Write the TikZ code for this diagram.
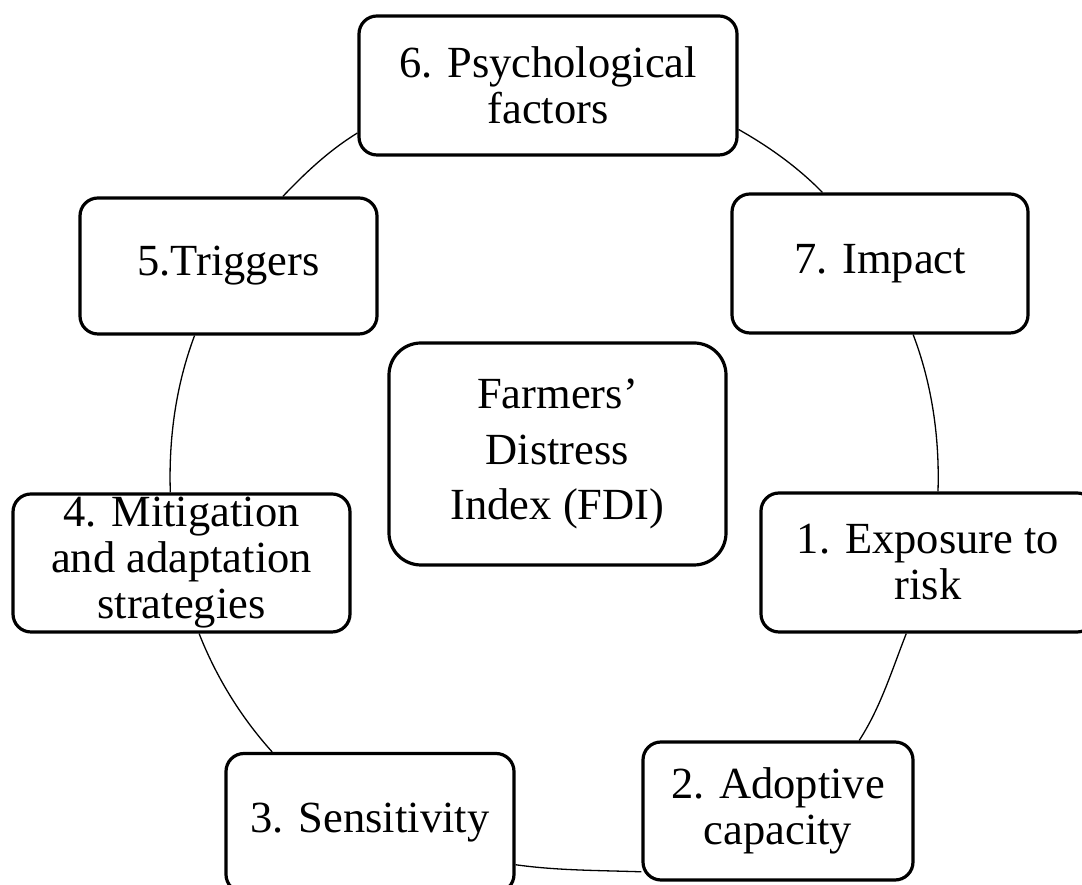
\documentclass[tikz,border=0pt]{standalone}
\usepackage{fontspec}
\setmainfont{Liberation Serif}
\begin{document}
\begin{tikzpicture}[x=1pt, y=1pt,
    every node/.style={draw=black, line width=3.2pt, rounded corners=18pt, align=center,
      inner sep=0pt, font=\fontsize{44.5pt}{46pt}\selectfont},
    ring/.style={draw=black, line width=1.3pt, looseness=0.86}]
    \useasboundingbox (0,0) rectangle (1082,885);
    \node[minimum width=378pt, minimum height=139pt] (n6) at (548,799.5) {6. Psychological\\factors};
    \node[minimum width=296pt, minimum height=139pt] (n7) at (880,621.5) {7. Impact};
    \node[minimum width=297pt, minimum height=136pt] (n5) at (228.5,619) {5.Triggers};
    \node[minimum width=337pt, minimum height=222pt, rounded corners=32pt,
      font=\fontsize{44.5pt}{55.5pt}\selectfont] (fdi) at (557.5,431) {Farmers’\\Distress\\Index (FDI)};
    \node[minimum width=337pt, minimum height=138pt] (n4) at (181.5,322) {4. Mitigation\\and adaptation\\strategies};
    \node[minimum width=334pt, minimum height=139pt] (n1) at (928,322.5) {1. Exposure to\\risk};
    \node[minimum width=288pt, minimum height=139pt] (n3) at (370,62) {3. Sensitivity};
    \node[minimum width=270pt, minimum height=138pt] (n2) at (778,74) {2. Adoptive\\capacity};
    \path [ring] (n7.129.4) edge[out=134.4, in=-29.5] (n6.347.2);
    \path [ring] (n6.194.8) edge[out=211.5, in=46.4] (n5.52.0);
    \path [ring] (n5.244.8) edge[out=249.4, in=91.9] (n4.99.3);
    \path [ring] (n4.284.1) edge[out=291.5, in=132.0] (n3.144.1);
    \path [ring] (n3.344.5) edge[out=-8, in=178] (n2.204.3);
    \path [ring] (n2.41.1) edge[out=57, in=248.5] (n1.253.2);
    \path [ring] (n1.82.0) edge[out=88.2, in=290.8] (n7.295.4);
\end{tikzpicture}
\end{document}
